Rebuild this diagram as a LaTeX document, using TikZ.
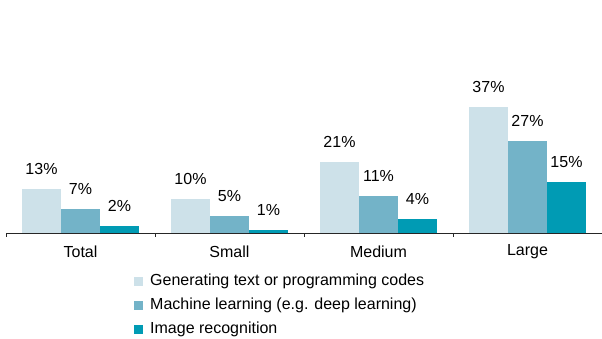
\documentclass[tikz,border=0pt]{standalone}
\usepackage{fontspec}
\setmainfont{Liberation Sans}
\usepackage{tikz}

\definecolor{gencol}{RGB}{205,225,233}
\definecolor{mlcol}{RGB}{115,179,200}
\definecolor{imgcol}{RGB}{0,155,180}

\begin{document}
\begin{tikzpicture}[x=1pt,y=-1pt,
  lbl/.style={font=\fontsize{16}{19}\selectfont, inner sep=0pt},
  legtext/.style={lbl, anchor=west}]
\useasboundingbox (0,0) rectangle (602,339);
% bars, one group per company size
\foreach \g/\name/\a/\b/\c in {0/Total/13/7/2, 1/Small/10/5/1, 2/Medium/21/11/4, 3/Large/37/27/15} {
  \pgfmathsetmacro\x{6+149*\g}
  \fill[gencol] (\x+16,233) rectangle (\x+55,233-3.4*\a);
  \fill[mlcol] (\x+55,233) rectangle (\x+94,233-3.4*\b);
  \fill[imgcol] (\x+94,233) rectangle (\x+133,233-3.4*\c);
  \node[lbl] (v\g a) at (\x+35.5,233-3.4*\a-20) {\a\%};
  \node[lbl] (v\g b) at (\x+74.5,233-3.4*\b-20) {\b\%};
  \node[lbl] (v\g c) at (\x+113.5,233-3.4*\c-20) {\c\%};
  \node[lbl] (cat\g) at (\x+74.5,252) {\name};
}
% axis
\draw[black!85] (6,233) -- (602,233);
\foreach \t in {6,155,304,453,602} \draw[black!85] (\t,233) -- (\t,237);
% legend
\fill[gencol] (134,277) rectangle (143,286);
\fill[mlcol] (134,301) rectangle (143,310);
\fill[imgcol] (134,325) rectangle (143,334);
\node[legtext] (leg1) at (150,281.5) {Generating text or programming codes};
\node[legtext] (leg2) at (150,305.5) {Machine learning (e.g. deep learning)};
\node[legtext] (leg3) at (150,329.5) {Image recognition};
\end{tikzpicture}
\end{document}
